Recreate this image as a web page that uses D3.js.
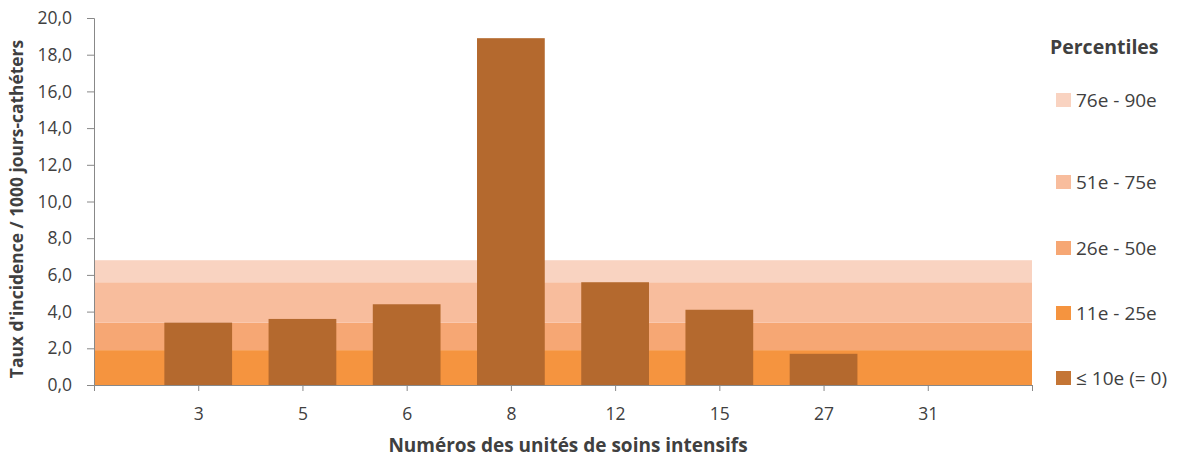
<!DOCTYPE html>
<html>
<head>
<meta charset="utf-8">
<script src="https://cdn.jsdelivr.net/npm/d3@7"></script>
<style>
  body { margin: 0; background: #fff; }
  text { font-family: "Open Sans", "DejaVu Sans", sans-serif; fill: #404040; }
</style>
</head>
<body>
<script>
'use strict';

// data
const units = ["3", "5", "6", "8", "12", "15", "27", "31"];
const rates = [3.4, 3.6, 4.4, 18.9, 5.6, 4.1, 1.7, 0];

// percentile band limits (upper edge of each band), from bottom up
const bandNames = ["≤ 10e (= 0)", "11e - 25e", "26e - 50e", "51e - 75e", "76e - 90e"];
const bandTops = [0, 1.9, 3.4, 5.6, 6.8];
const bandColors = ["#c47535", "#f5943f", "#f6a774", "#f8bd9d", "#f9d3c1"];

const yTicks = [0, 2, 4, 6, 8, 10, 12, 14, 16, 18, 20];

const W = 1180, H = 457;
const m = { left: 94, right: 1032, top: 18, bottom: 385 };

const svg = d3.select('body').append('svg')
  .attr('width', W)
  .attr('height', H);

// x positions: categories sit at 1..8 on a 0..9 axis
const x = d3.scaleLinear()
  .domain([0, units.length + 1])
  .range([m.left, m.right]);
const step = x(1) - x(0);
const barW = step * 0.65;

const y = d3.scaleLinear()
  .domain([0, 20])
  .range([m.bottom, m.top]);

// percentile bands behind bars
const bands = bandTops.map((t, i) => ({ lo: i === 0 ? 0 : bandTops[i - 1], hi: t, color: bandColors[i] }));
svg.append('g').selectAll('rect')
  .data(bands.filter(d => d.hi > d.lo))
  .enter()
  .append('rect')
  .attr('x', m.left)
  .attr('width', m.right - m.left)
  .attr('y', d => y(d.hi))
  .attr('height', d => y(d.lo) - y(d.hi))
  .attr('fill', d => d.color);

// bars
svg.append('g').selectAll('rect')
  .data(rates)
  .enter()
  .append('rect')
  .attr('x', (d, i) => x(i + 1) - barW / 2)
  .attr('width', barW)
  .attr('y', d => y(d))
  .attr('height', d => y(0) - y(d))
  .attr('fill', '#b4692e');

// y axis
const yAxis = d3.axisLeft(y)
  .tickValues(yTicks)
  .tickSize(7)
  .tickPadding(15)
  .tickFormat(d => d3.format('.1f')(d).replace('.', ','));
const gy = svg.append('g')
  .attr('transform', 'translate(' + m.left + ',0)')
  .call(yAxis);
gy.selectAll('text').style('font-size', '17.5px').style('fill', '#404040');

// x axis
const xAxis = d3.axisBottom(x)
  .tickValues(d3.range(1, units.length + 2))
  .tickSize(6)
  .tickPadding(17)
  .tickFormat(d => units[d - 1] || '');
const gx = svg.append('g')
  .attr('transform', 'translate(0,' + m.bottom + ')')
  .call(xAxis);
gx.selectAll('text').style('font-size', '17.5px').style('fill', '#404040');

svg.selectAll('.domain, .tick line').attr('stroke', '#888');

// axis titles
svg.append('text')
  .attr('transform', 'translate(23,' + 209 + ')rotate(-90)')
  .attr('text-anchor', 'middle')
  .style('font-size', '17.4px')
  .style('font-weight', 'bold')
  .text("Taux d'incidence  / 1000 jours-cathéters");

svg.append('text')
  .attr('x', 568)
  .attr('y', 452)
  .attr('text-anchor', 'middle')
  .style('font-size', '19px')
  .style('font-weight', 'bold')
  .text('Numéros des unités de soins intensifs');

// legend
svg.append('text')
  .attr('x', 1050)
  .attr('y', 54)
  .style('font-size', '19.5px')
  .style('font-weight', 'bold')
  .text('Percentiles');

const legendY = [378, 313, 248, 182, 100];
const leg = svg.append('g').selectAll('g')
  .data(bandNames)
  .enter()
  .append('g')
  .attr('transform', (d, i) => 'translate(1056,' + legendY[i] + ')');
leg.append('rect')
  .attr('x', 0)
  .attr('y', -7)
  .attr('width', 15)
  .attr('height', 14)
  .attr('fill', (d, i) => bandColors[i]);
leg.append('text')
  .attr('x', 20)
  .attr('y', 7)
  .style('font-size', '19px')
  .text(d => d);
</script>
</body>
</html>
